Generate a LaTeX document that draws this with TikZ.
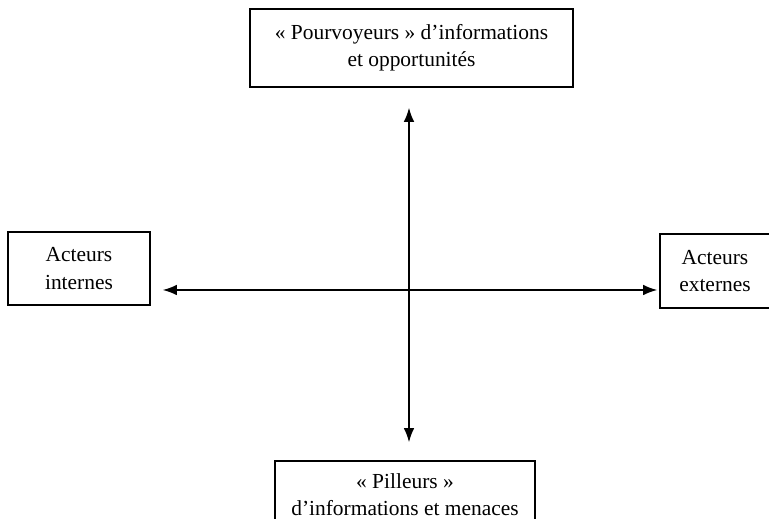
\documentclass[tikz,border=0pt]{standalone}
\usepackage{fontspec}
\setmainfont{Liberation Serif}
\usetikzlibrary{arrows.meta}

\begin{document}
\begin{tikzpicture}[x=0.02cm, y=-0.02cm, font=\fontsize{12.2}{15.5}\selectfont,
  actor/.style={draw,line width=0.9pt,align=center,inner sep=0pt},
  link/.style={{Latex[length=8pt,width=6pt]}-{Latex[length=8pt,width=6pt]},line width=0.8pt}]
\useasboundingbox (0,0) rectangle (769,519);

\node[actor,minimum width=6.46cm,minimum height=1.56cm] at (411.5,48)(pourv) {« Pourvoyeurs » d'informations\\et opportunités};
\node[actor,minimum width=2.84cm,minimum height=1.46cm] at (79,268.5)(intern) {Acteurs\\internes};
\node[actor,minimum width=2.2cm,minimum height=1.48cm] at (715,271)(extern) {Acteurs\\externes};
\node[actor,minimum width=5.2cm,minimum height=1.36cm] at (405,495)(pill) {« Pilleurs »\\d'informations et menaces};
\coordinate (mid) at (409,290);

\draw[link,shorten <=0.4cm,shorten >=0.36cm] (mid |- pourv.south) -- (mid |- pill.north);
\draw[link,shorten <=0.24cm,shorten >=0.04cm] (intern.east |- mid) -- (extern.west |- mid);

\end{tikzpicture}
\end{document}
